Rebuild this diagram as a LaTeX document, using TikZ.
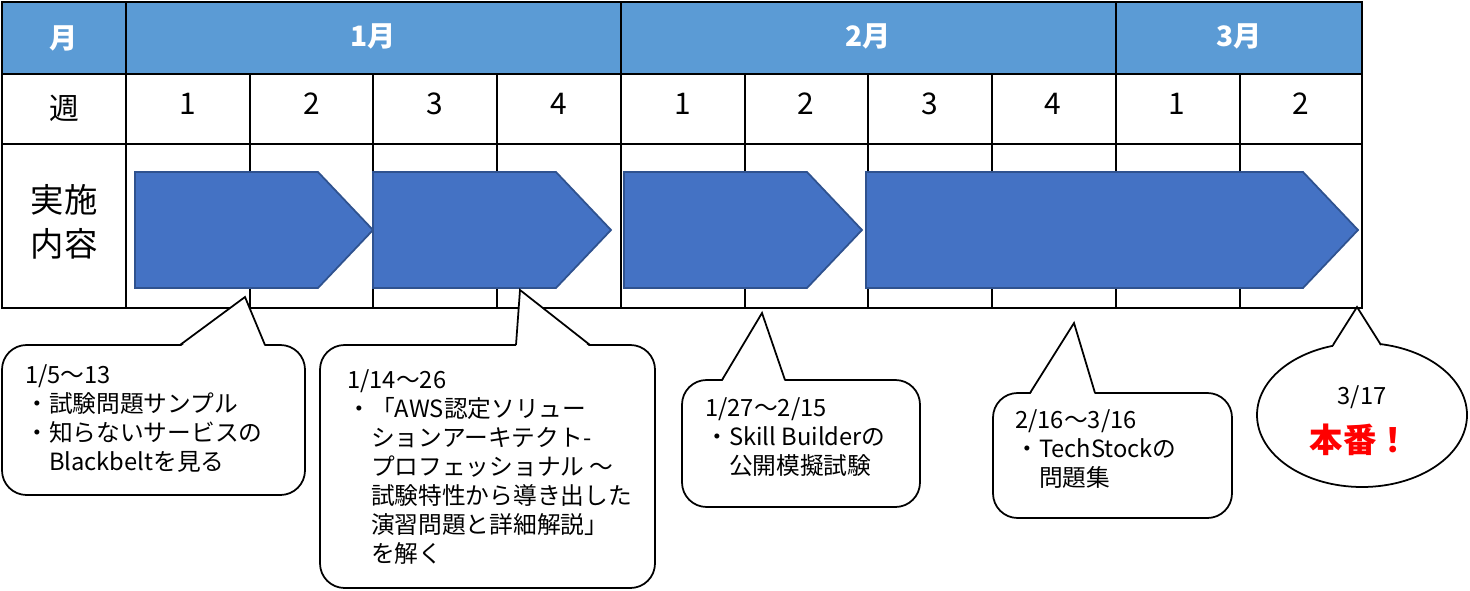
\documentclass[tikz,border=0pt]{standalone}
\usepackage{fontspec}
\setmainfont{Noto Sans CJK JP}
\usetikzlibrary{positioning,calc}
\definecolor{hdrblue}{RGB}{91,155,213}
\definecolor{barblue}{RGB}{68,114,196}
\definecolor{barline}{RGB}{47,82,143}
\tikzset{
    grid/.style={line width=1.3pt, black},
    bar/.style={fill=barblue, draw=barline, line width=1pt},
    bubble/.style={draw=black, line width=1pt, fill=white},
    note/.style={anchor=north west, align=left, inner sep=0pt, font=\fontsize{13.5}{16.5}\selectfont},
}
\begin{document}
\begin{tikzpicture}[x=0.02cm, y=-0.02cm]
    \useasboundingbox (0,0) rectangle (1470,591);

    % Header row
    \fill[hdrblue] (2,2) rectangle (1362,74);
    \node[font=\fontsize{16}{18}\bfseries\selectfont, white] (hmonth) at (64,38) {月};
    \node[font=\fontsize{16}{18}\bfseries\selectfont, white] (hjan) at (373,36) {1月};
    \node[font=\fontsize{16}{18}\bfseries\selectfont, white] (hfeb) at (868,36) {2月};
    \node[font=\fontsize{16}{18}\bfseries\selectfont, white] (hmar) at (1239,36) {3月};

    % Week row
    \node[font=\fontsize{17}{20}\selectfont] (hweek) at (64,108) {週};
    \foreach \i/\w in {0/1,1/2,2/3,3/4,4/1,5/2,6/3,7/4,8/1,9/2} {
        \node[font=\fontsize{17}{20}\selectfont] (week\i) at (188+123.6*\i,104) {\w};
    }
    \node[font=\fontsize{19}{25}\selectfont, align=center] (hcontent) at (64,222) {実施\\内容};

    % Grid lines
    \draw[grid] (2,2) rectangle (1362,308);
    \draw[grid] (2,74) -- (1362,74);
    \draw[grid] (2,144) -- (1362,144);
    \draw[grid] (126,2) -- (126,308);
    \draw[grid] (621,2) -- (621,308);
    \draw[grid] (1116,2) -- (1116,308);
    \foreach \x in {250,373,497,745,868,992,1240} {
        \draw[grid] (\x,74) -- (\x,308);
    }

    % Bars
    \draw[bar] (135,172) -- (318,172) -- (373,230) -- (318,288) -- (135,288) -- cycle;
    \draw[bar] (373,172) -- (556,172) -- (611,230) -- (556,288) -- (373,288) -- cycle;
    \draw[bar] (624,172) -- (807,172) -- (862,230) -- (807,288) -- (624,288) -- cycle;
    \draw[bar] (866,172) -- (1303,172) -- (1358,230) -- (1303,288) -- (866,288) -- cycle;

    % Callouts
    \coordinate (tip1) at (245,297);
    \coordinate (tip2) at (520,290);
    \coordinate (tip3) at (762,313);
    \coordinate (tip4) at (1074,323);
    \coordinate (tip5) at (1357,307);

    \draw[bubble, rounded corners=14pt] (2,345) rectangle (305,495);
    \fill[white] (180,347) -- (tip1) -- (265,347) -- cycle;
    \draw[line width=1pt] (180,345) -- (tip1) -- (265,345);
    \node[note] (note1) at (25,364) {1/5～13\\・試験問題サンプル\\・知らないサービスの\\\phantom{・}Blackbeltを見る};

    \draw[bubble, rounded corners=14pt] (320,345) rectangle (655,588);
    \fill[white] (516,347) -- (tip2) -- (590,347) -- cycle;
    \draw[line width=1pt] (516,345) -- (tip2) -- (590,345);
    \node[note] (note2) at (347,369) {1/14～26\\・「AWS認定ソリュー\\\phantom{・}ションアーキテクト-\\\phantom{・}プロフェッショナル ～\\\phantom{・}試験特性から導き出した\\\phantom{・}演習問題と詳細解説」\\\phantom{・}を解く};

    \draw[bubble, rounded corners=14pt] (682,380) rectangle (920,507);
    \fill[white] (722,382) -- (tip3) -- (785,382) -- cycle;
    \draw[line width=1pt] (722,380) -- (tip3) -- (785,380);
    \node[note] (note3) at (705,397) {1/27～2/15\\・Skill Builderの\\\phantom{・}公開模擬試験};

    \draw[bubble, rounded corners=14pt] (993,393) rectangle (1232,518);
    \fill[white] (1030,395) -- (tip4) -- (1095,395) -- cycle;
    \draw[line width=1pt] (1030,393) -- (tip4) -- (1095,393);
    \node[note] (note4) at (1015,409) {2/16～3/16\\・TechStockの\\\phantom{・}問題集};

    \draw[bubble] (1362,415) ellipse [x radius=105, y radius=72];
    \fill[white] (1333,347) -- (tip5) -- (1381,347) -- cycle;
    \draw[line width=1pt] (1333,345) -- (tip5) -- (1381,345);
    \node[font=\fontsize{13.5}{16}\selectfont] (date5) at (1362,397) {3/17};
    \node[font=\fontsize{19}{22}\bfseries\selectfont, red] (main5) at (1360,440) {本番！};
\end{tikzpicture}
\end{document}
